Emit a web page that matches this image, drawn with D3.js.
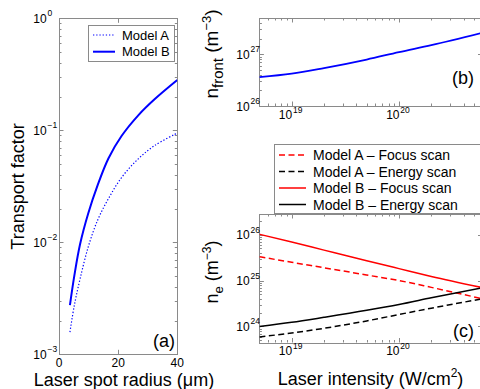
<!DOCTYPE html>
<html>
<head>
<meta charset="utf-8">
<script src="https://cdn.jsdelivr.net/npm/d3@7"></script>
<style>
  body { margin: 0; background: #fff; }
  svg { font-family: "Liberation Sans", Arial, Helvetica, sans-serif; }
</style>
</head>
<body>
<svg id="Vis" width="480" height="389"></svg>
<script>
/*
* DATA
*/

// (a) transport factor against laser spot radius (um)
const radius     = [3.7, 5.2, 7.1, 9.9, 13.1, 16.7, 21.2, 26.8, 32.4, 40];
const transportA = [0.00158, 0.00275, 0.00468, 0.00912, 0.01585, 0.0245, 0.038, 0.0556, 0.0733, 0.0944];
const transportB = [0.00275, 0.00506, 0.00955, 0.01816, 0.0325, 0.056, 0.0893, 0.1361, 0.1901, 0.281];

// (b) and (c) against laser intensity (W/cm^2)
const intensity = [5e18, 1e19, 2e19, 5e19, 1e20, 2e20, 6e20];
const nFront    = [3.6e26, 4.2e26, 5.4e26, 7.9e26, 1.1e27, 1.5e27, 2.6e27];
const neAFocus  = [3.3e25, 2.5e25, 1.9e25, 1.32e25, 1.0e25, 7.1e24, 4.0e24];
const neAEnergy = [5.9e23, 7.2e23, 9.1e23, 1.32e24, 1.82e24, 2.5e24, 4.0e24];
const neBFocus  = [1.02e26, 6.9e25, 4.6e25, 2.7e25, 1.82e25, 1.23e25, 7.0e24];
const neBEnergy = [1.0e24, 1.23e24, 1.58e24, 2.24e24, 3.0e24, 4.2e24, 7.0e24];

const legendA = ["Model A", "Model B"];
const legendC = ["Model A \u2013 Focus scan", "Model A \u2013 Energy scan",
                 "Model B \u2013 Focus scan", "Model B \u2013 Energy scan"];

/*
* SETUP
*/

const svg = d3.select("svg#Vis");
const frameColor = "#8a8a8a";

const panels = {
  a: {left: 59, right: 177.3, top: 18.3, bottom: 354.3},
  b: {left: 259.4, right: 482.5, top: 18, bottom: 106},
  c: {left: 259.4, right: 482.5, top: 214, bottom: 342.5}
};

const xA = d3.scaleLinear().domain([0, 40]).range([panels.a.left, panels.a.right]);
const yA = d3.scaleLog().domain([1e-3, 1]).range([panels.a.bottom, panels.a.top]);

const xB = d3.scaleLog().domain([5e18, 6e20]).range([panels.b.left, panels.b.right]);
const yB = d3.scaleLog().domain([1e26, 5e27]).range([panels.b.bottom, panels.b.top]);

const xC = d3.scaleLog().domain([5e18, 6e20]).range([panels.c.left, panels.c.right]);
const yC = d3.scaleLog().domain([Math.pow(10, 23.65), Math.pow(10, 26.45)]).range([panels.c.bottom, panels.c.top]);

/*
* HELPERS
*/

function isDecade(v) {
  const l = Math.log10(v);
  return Math.abs(l - Math.round(l)) < 1e-6;
}

function logTicks(scale) {
  const [d0, d1] = scale.domain();
  return scale.ticks(20).filter(v => v >= d0 * 0.999 && v <= d1 * 1.001);
}

function drawFrame(key, xScale, yScale, xLog) {
  const p = panels[key];
  const g = svg.append("g").attr("id", "frame-" + key);

  // x ticks, bottom and top
  const xt = xLog ? logTicks(xScale) : xScale.ticks(2);
  xt.forEach(v => {
    const len = xLog && !isDecade(v) ? 2.5 : 4.5;
    const x = Math.round(xScale(v)) + 0.5;
    g.append("line").attr("x1", x).attr("x2", x)
      .attr("y1", p.bottom).attr("y2", p.bottom - len);
    g.append("line").attr("x1", x).attr("x2", x)
      .attr("y1", p.top).attr("y2", p.top + len);
  });

  // y ticks, left and right
  logTicks(yScale).forEach(v => {
    const len = isDecade(v) ? 4.5 : 2.5;
    const y = Math.round(yScale(v)) + 0.5;
    g.append("line").attr("x1", p.left).attr("x2", p.left + len)
      .attr("y1", y).attr("y2", y);
    g.append("line").attr("x1", p.right).attr("x2", p.right - len)
      .attr("y1", y).attr("y2", y);
  });

  g.append("rect")
    .attr("x", Math.round(p.left) + 0.5).attr("y", Math.round(p.top) + 0.5)
    .attr("width", Math.round(p.right - p.left)).attr("height", Math.round(p.bottom - p.top))
    .attr("fill", "none");

  g.selectAll("line, rect").attr("stroke", frameColor).attr("stroke-width", 1);
}

function yDecadeLabels(yScale, axisX, baseOffset) {
  logTicks(yScale).filter(isDecade).forEach(v => {
    const y = yScale(v);
    const e = Math.round(Math.log10(v));
    svg.append("text").attr("x", axisX - baseOffset).attr("y", y + 4.5)
      .attr("text-anchor", "end").attr("font-size", 12).text("10");
    svg.append("text").attr("x", axisX - baseOffset + 0.8).attr("y", y - 2)
      .attr("font-size", 8.5).text(String(e).replace("-", "\u2212"));
  });
}

function xDecadeLabels(xScale, baseY) {
  logTicks(xScale).filter(isDecade).forEach(v => {
    const x = xScale(v);
    const e = Math.round(Math.log10(v));
    svg.append("text").attr("x", x + 0.5).attr("y", baseY)
      .attr("text-anchor", "end").attr("font-size", 12).text("10");
    svg.append("text").attr("x", x + 1.3).attr("y", baseY - 6.5)
      .attr("font-size", 8.5).text(e);
  });
}

function clipFor(key) {
  const p = panels[key];
  svg.append("clipPath").attr("id", "clip-" + key)
    .append("rect").attr("x", p.left).attr("y", p.top)
    .attr("width", p.right - p.left).attr("height", p.bottom - p.top);
  return "url(#clip-" + key + ")";
}

/*
* PANEL (a)
*/

drawFrame("a", xA, yA, false);
yDecadeLabels(yA, panels.a.left, 12.3);

xA.ticks(2).forEach(v => {
  svg.append("text").attr("x", xA(v)).attr("y", 367)
    .attr("text-anchor", "middle").attr("font-size", 12).text(v);
});

const lineA = d3.line().curve(d3.curveCatmullRom.alpha(0.5))
  .x(d => xA(d[0])).y(d => yA(d[1]));

const gA = svg.append("g").attr("clip-path", clipFor("a"));
gA.append("path")
  .datum(d3.zip(radius, transportA))
  .attr("d", lineA)
  .attr("fill", "none").attr("stroke", "#0000ff")
  .attr("stroke-width", 1.2).attr("stroke-dasharray", "1.3,1.9");
gA.append("path")
  .datum(d3.zip(radius, transportB))
  .attr("d", lineA)
  .attr("fill", "none").attr("stroke", "#0000ff").attr("stroke-width", 2);

/* Legend (a) */
const legA = svg.append("g").attr("id", "legend-a");
legA.append("rect").attr("x", 88.5).attr("y", 25.5).attr("width", 86).attr("height", 36)
  .attr("fill", "#fff").attr("stroke", frameColor);
legendA.forEach((name, i) => {
  const y = 35 + i * 16.7;
  legA.append("line").attr("x1", 93).attr("x2", 115).attr("y1", y).attr("y2", y)
    .attr("stroke", "#0000ff")
    .attr("stroke-width", i === 0 ? 1.2 : 2)
    .attr("stroke-dasharray", i === 0 ? "1.3,1.9" : null);
  legA.append("text").attr("x", 122).attr("y", y + 4.7)
    .attr("font-size", 13).text(name);
});

svg.append("text").attr("x", 175).attr("y", 347)
  .attr("text-anchor", "end").attr("font-size", 18).text("(a)");

svg.append("text").attr("x", 124).attr("y", 386)
  .attr("text-anchor", "middle").attr("font-size", 18).text("Laser spot radius (\u03bcm)");

svg.append("text")
  .attr("transform", "translate(24,186.5) rotate(-90)")
  .attr("text-anchor", "middle").attr("font-size", 18).text("Transport factor");

/*
* PANEL (b)
*/

drawFrame("b", xB, yB, true);
yDecadeLabels(yB, panels.b.left, 9.7);
xDecadeLabels(xB, 119);

const lineB = d3.line().curve(d3.curveMonotoneX)
  .x(d => xB(d[0])).y(d => yB(d[1]));

svg.append("g").attr("clip-path", clipFor("b"))
  .append("path")
  .datum(d3.zip(intensity, nFront))
  .attr("d", lineB)
  .attr("fill", "none").attr("stroke", "#0000ff").attr("stroke-width", 1.8);

svg.append("text").attr("x", 474).attr("y", 84)
  .attr("text-anchor", "end").attr("font-size", 18).text("(b)");

const labB = svg.append("text")
  .attr("transform", "translate(218,54) rotate(-90)")
  .attr("text-anchor", "middle").attr("font-size", 19);
labB.append("tspan").text("n");
labB.append("tspan").attr("font-size", 15).attr("dy", 5).text("front");
labB.append("tspan").attr("dy", -5).text(" (m");
labB.append("tspan").attr("font-size", 13).attr("dy", -7).text("\u22123");
labB.append("tspan").attr("dy", 7).text(")");

/*
* PANEL (c)
*/

drawFrame("c", xC, yC, true);
yDecadeLabels(yC, panels.c.left, 9.7);
xDecadeLabels(xC, 355);

const lineC = d3.line().curve(d3.curveMonotoneX)
  .x(d => xC(d[0])).y(d => yC(d[1]));

const seriesC = [
  {values: neAFocus,  color: "#ff0000", dash: "6,3.5"},
  {values: neAEnergy, color: "#000000", dash: "6,3.5"},
  {values: neBFocus,  color: "#ff0000", dash: null},
  {values: neBEnergy, color: "#000000", dash: null}
];

const gC = svg.append("g").attr("clip-path", clipFor("c"));
seriesC.forEach(s => {
  gC.append("path")
    .datum(d3.zip(intensity, s.values))
    .attr("d", lineC)
    .attr("fill", "none").attr("stroke", s.color)
    .attr("stroke-width", 1.5).attr("stroke-dasharray", s.dash);
});

/* Legend (c) */
const legC = svg.append("g").attr("id", "legend-c");
legC.append("rect").attr("x", 274.5).attr("y", 144.5).attr("width", 220).attr("height", 69)
  .attr("fill", "#fff").attr("stroke", frameColor);
legendC.forEach((name, i) => {
  const y = 155 + i * 16.5;
  legC.append("line").attr("x1", 279).attr("x2", 306).attr("y1", y).attr("y2", y)
    .attr("stroke", seriesC[i].color).attr("stroke-width", 1.5)
    .attr("stroke-dasharray", seriesC[i].dash);
  legC.append("text").attr("x", 313).attr("y", y + 5)
    .attr("font-size", 14).text(name);
});

svg.append("text").attr("x", 474).attr("y", 337)
  .attr("text-anchor", "end").attr("font-size", 18).text("(c)");

const labC = svg.append("text")
  .attr("transform", "translate(218,272) rotate(-90)")
  .attr("text-anchor", "middle").attr("font-size", 18);
labC.append("tspan").text("n");
labC.append("tspan").attr("font-size", 13).attr("dy", 5).text("e");
labC.append("tspan").attr("dy", -5).text(" (m");
labC.append("tspan").attr("font-size", 12).attr("dy", -7).text("\u22123");
labC.append("tspan").attr("dy", 7).text(")");

const titleC = svg.append("text").attr("x", 370.5).attr("y", 385)
  .attr("text-anchor", "middle").attr("font-size", 18);
titleC.append("tspan").text("Laser intensity (W/cm");
titleC.append("tspan").attr("font-size", 12).attr("dy", -8).text("2");
titleC.append("tspan").attr("dy", 8).text(")");
</script>
</body>
</html>
